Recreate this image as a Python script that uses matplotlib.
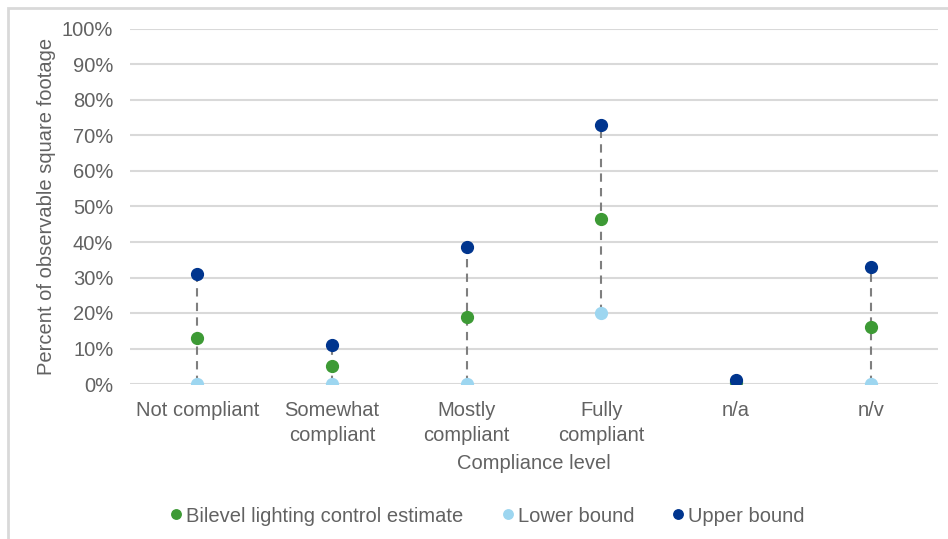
import numpy as np
import matplotlib
matplotlib.use("Agg")
import matplotlib.pyplot as plt
from matplotlib.patches import Rectangle

plt.rcParams['font.family'] = ['Liberation Sans', 'DejaVu Sans']

# Data (percent of observable square footage)
categories = ["Not compliant", "Somewhat\ncompliant", "Mostly\ncompliant",
              "Fully\ncompliant", "n/a", "n/v"]
estimate = [13, 5, 19, 46.5, 0.5, 16]
lower = [0, 0, 0, 20, 0, 0]
upper = [31, 11, 38.5, 73, 1, 33]

green = "#3d9a35"
light_blue = "#9dd6f0"
dark_blue = "#00358e"
text_gray = "#626262"
grid_gray = "#d9d9d9"
fs = 14.5

fig = plt.figure(figsize=(9.48, 5.39), dpi=100)
ax = fig.add_axes([130/948, 1 - 384/539, (938 - 130)/948, (384 - 29)/539])

x = np.arange(len(categories))

# dashed range lines between lower and upper bounds
ax.vlines(x, lower, upper, colors="#7f7f7f", linestyles=(0, (4, 3)), linewidth=1.5, zorder=2)

ax.plot(x, lower, 'o', color=light_blue, markersize=8.5, label="Lower bound", zorder=3)
ax.plot(x, upper, 'o', color=dark_blue, markersize=8.5, label="Upper bound", zorder=4)
ax.plot(x, estimate, 'o', color=green, markersize=8.5,
        label="Bilevel lighting control estimate", zorder=3)

ax.set_xlim(-0.5, len(categories) - 0.5)
ax.set_ylim(0, 100)
ax.set_yticks(np.arange(0, 101, 10))
ax.set_yticklabels(["%d%%" % v for v in range(0, 101, 10)])
ax.set_xticks(x)
ax.set_xticklabels(categories, linespacing=1.4)
ax.tick_params(axis='both', length=0, labelsize=fs, labelcolor=text_gray)
ax.tick_params(axis='x', pad=12)
ax.tick_params(axis='y', pad=12)
ax.grid(axis='y', color=grid_gray, linewidth=1.5)
ax.set_axisbelow(True)
for s in ax.spines.values():
    s.set_visible(False)

ax.set_xlabel("Compliance level", fontsize=fs, color=text_gray, labelpad=7)
ax.set_ylabel("Percent of observable square footage", fontsize=fs, color=text_gray, labelpad=4)

# legend in estimate, lower, upper order
h, l = ax.get_legend_handles_labels()
order = [2, 0, 1]
fig.legend([h[i] for i in order], [l[i] for i in order], loc='center',
           bbox_to_anchor=(0.512, 1 - 516/539), ncol=3, frameon=False,
           fontsize=fs, labelcolor=text_gray, handletextpad=0.0,
           columnspacing=1.7, markerscale=0.8, handlelength=1.0)

# chart frame
fig.patches.append(Rectangle((8/948, -0.01), 1.0, 1 - 8/539 + 0.01, transform=fig.transFigure,
                             fill=False, edgecolor=grid_gray, linewidth=2))

fig.savefig("out.png", dpi=100)
